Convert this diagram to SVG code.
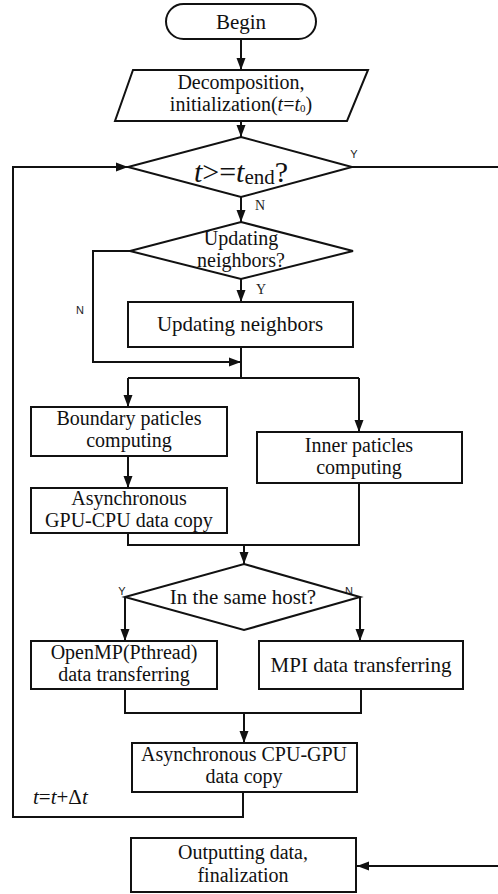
<svg xmlns="http://www.w3.org/2000/svg" width="498" height="894" viewBox="0 0 498 894">
  <defs>
    <marker id="arrow" markerUnits="userSpaceOnUse" markerWidth="12" markerHeight="12" viewBox="0 0 12 12" refX="12" refY="6" orient="auto">
      <path d="M0,1.5 L12,6 L0,10.5 Z" fill="#111"/>
    </marker>
    <style>
      .shape { fill: #fff; stroke: #111; stroke-width: 2; }
      .line { fill: none; stroke: #111; stroke-width: 2; }
      .txt { font-family: "Liberation Serif", "Times New Roman", serif; font-size: 20px; fill: #111; text-anchor: middle; }
      .lbl { font-family: "Liberation Sans", Arial, sans-serif; font-size: 11px; fill: #222; text-anchor: middle; }
      .lbls { font-family: "Liberation Serif", "Times New Roman", serif; font-size: 14px; fill: #222; text-anchor: middle; }
    </style>
  </defs>
  <rect width="498" height="894" fill="#fff"/>

  <!-- connectors -->
  <g id="connectors">
    <path class="line" d="M241,39 V70" marker-end="url(#arrow)"/>
    <path class="line" d="M241,121 V137" marker-end="url(#arrow)"/>
    <!-- loop back into the time test -->
    <path class="line" d="M243,792 V817 H13 V167 H128" marker-end="url(#arrow)"/>
    <!-- finished: to output -->
    <path class="line" d="M352,167 H500 V866 H357" marker-end="url(#arrow)"/>
    <path class="line" d="M241,197 V222" marker-end="url(#arrow)"/>
    <path class="line" d="M241,279 V302" marker-end="url(#arrow)"/>
    <path class="line" d="M130,251 H93 V362 H241" marker-end="url(#arrow)"/>
    <path class="line" d="M241,347 V378"/>
    <path class="line" d="M128,378 H359"/>
    <path class="line" d="M128,378 V407" marker-end="url(#arrow)"/>
    <path class="line" d="M359,378 V432" marker-end="url(#arrow)"/>
    <path class="line" d="M128,456 V488" marker-end="url(#arrow)"/>
    <path class="line" d="M128,533 V545 H359 V483"/>
    <path class="line" d="M244,545 V564" marker-end="url(#arrow)"/>
    <path class="line" d="M125,597 V641" marker-end="url(#arrow)"/>
    <path class="line" d="M360,597 V641" marker-end="url(#arrow)"/>
    <path class="line" d="M125,689 V713 H361 V689"/>
    <path class="line" d="M244,713 V743" marker-end="url(#arrow)"/>

    <text class="lbl" x="354" y="158">Y</text>
    <text class="lbls" x="260" y="210">N</text>
    <text class="lbls" x="261" y="294">Y</text>
    <text class="lbl" x="80" y="314">N</text>
    <text class="lbl" x="122" y="595">Y</text>
    <text class="lbl" x="349" y="595">N</text>
    <text class="txt" x="33" y="804" style="text-anchor:start;font-size:21px"><tspan font-style="italic">t</tspan>=<tspan font-style="italic">t</tspan>+Δ<tspan font-style="italic">t</tspan></text>
  </g>

  <g id="begin">
    <rect class="shape" x="166" y="4" width="150" height="35" rx="17.5"/>
    <text class="txt" x="241" y="29" style="font-size:21px">Begin</text>
  </g>

  <g id="init">
    <polygon class="shape" points="133,70 368,70 347,121 115,121"/>
    <text class="txt" x="241" y="89">Decomposition,</text>
    <text class="txt" x="241" y="111">initialization(<tspan font-style="italic">t</tspan>=<tspan font-style="italic">t</tspan><tspan font-size="11" dy="1">0</tspan><tspan dy="-1">)</tspan></text>
  </g>

  <g id="time-test">
    <polygon class="shape" points="241,137 352,167 241,197 128,167"/>
    <text class="txt" x="241" y="182" style="font-size:30px"><tspan font-style="italic">t</tspan>&gt;=<tspan font-style="italic">t</tspan><tspan style="font-size:21px" dy="2">end</tspan><tspan dy="-2">?</tspan></text>
  </g>

  <g id="neighbor-test">
    <polygon class="shape" points="241,222 353,251 241,279 130,251"/>
    <text class="txt" x="241" y="245">Updating</text>
    <text class="txt" x="241" y="267">neighbors?</text>
  </g>

  <g id="update-neighbors">
    <rect class="shape" x="128" y="302" width="225" height="45"/>
    <text class="txt" x="240" y="331" style="font-size:21px">Updating neighbors</text>
  </g>

  <g id="boundary">
    <rect class="shape" x="31" y="407" width="196" height="49"/>
    <text class="txt" x="129" y="425">Boundary paticles</text>
    <text class="txt" x="129" y="447">computing</text>
  </g>

  <g id="gpu-cpu-copy">
    <rect class="shape" x="31" y="488" width="196" height="45"/>
    <text class="txt" x="129" y="505">Asynchronous</text>
    <text class="txt" x="129" y="527">GPU-CPU data copy</text>
  </g>

  <g id="inner">
    <rect class="shape" x="257" y="432" width="205" height="51"/>
    <text class="txt" x="359" y="452">Inner paticles</text>
    <text class="txt" x="359" y="474">computing</text>
  </g>

  <g id="host-test">
    <polygon class="shape" points="244,564 360,597 244,630 125,597"/>
    <text class="txt" x="243" y="604" style="font-size:21px">In the same host?</text>
  </g>

  <g id="openmp">
    <rect class="shape" x="31" y="641" width="186" height="48"/>
    <text class="txt" x="124" y="659">OpenMP(Pthread)</text>
    <text class="txt" x="124" y="681">data transferring</text>
  </g>

  <g id="mpi">
    <rect class="shape" x="259" y="641" width="204" height="48"/>
    <text class="txt" x="361" y="672" style="font-size:21px">MPI data transferring</text>
  </g>

  <g id="cpu-gpu-copy">
    <rect class="shape" x="132" y="743" width="225" height="49"/>
    <text class="txt" x="244" y="761">Asynchronous CPU-GPU</text>
    <text class="txt" x="244" y="783">data copy</text>
  </g>

  <g id="output">
    <rect class="shape" x="131" y="838" width="225" height="54"/>
    <text class="txt" x="243" y="859">Outputting data,</text>
    <text class="txt" x="243" y="882">finalization</text>
  </g>
</svg>
